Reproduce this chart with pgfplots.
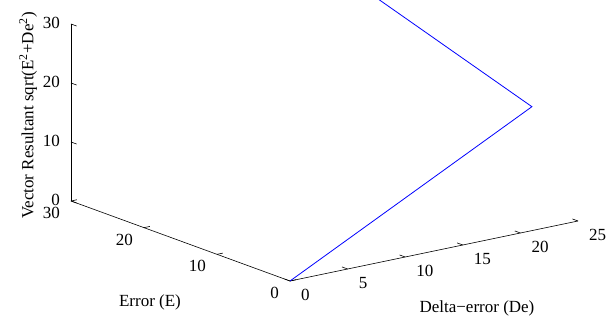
\documentclass[border=0pt]{standalone}
\usepackage{fontspec}
\setmainfont{Liberation Serif}
\usepackage{pgfplots}
\pgfplotsset{compat=1.18}
\usetikzlibrary{calc}
\begin{document}
\begin{tikzpicture}
\begin{axis}[
  x={(11.52pt,2.4pt)}, y={(-7.3pt,2.667pt)}, z={(0pt,5.9pt)},
  xmin=0, xmax=25, ymin=0, ymax=30, zmin=0, zmax=30,
  xtick={0,5,10,15,20,25}, ytick={0,10,20,30}, ztick={0,10,20,30},
  axis line style={draw=none},
  tick style={draw=none},
  tick pos=left,
  clip=false,
  /pgf/number format/assume math mode=true,
  tick label style={font=\fontsize{17}{20}\selectfont, inner sep=0pt},
  xticklabel style={anchor=west, xshift=11pt, yshift=-14pt},
  yticklabel style={anchor=east, xshift=-11pt, yshift=-12pt},
  zticklabel style={anchor=east, xshift=-11pt, yshift=1pt},
  xlabel={Delta−error (De)},
  ylabel={Error (E)},
  zlabel={Vector Resultant sqrt(E\textsuperscript{2}+De\textsuperscript{2})},
  every axis x label/.style={at={(axis cs:6.25,-15.75,0)}, anchor=center, font=\fontsize{17}{20}\selectfont},
  every axis y label/.style={at={(axis cs:-10.92,1.95,0)}, anchor=center, font=\fontsize{17}{20}\selectfont},
  every axis z label/.style={at={(axis cs:0,35.14,12.17)}, anchor=base, rotate=90, inner sep=0pt, font=\fontsize{17}{20}\selectfont},
]
\coordinate (O) at (axis cs:0,0,0);
\draw[black, line width=0.6pt] (axis cs:0,0,0) -- (axis cs:25,0,0);
\draw[black, line width=0.6pt] (axis cs:0,0,0) -- (axis cs:0,30,0);
\draw[black, line width=0.6pt] (axis cs:0,30,0) -- (axis cs:0,30,30);
\pgfplotsinvokeforeach{0,5,10,15,20,25}{
  \draw[black, line width=0.6pt] (axis cs:#1,0,0) -- (axis cs:#1,0.77,0);
}
\pgfplotsinvokeforeach{0,10,20,30}{
  \draw[black, line width=0.6pt] (axis cs:0,#1,0) -- (axis cs:0.51,#1,0);
  \draw[black, line width=0.6pt] (axis cs:0,30,#1) -- (axis cs:0,29.23,#1);
}
\addplot3[blue, line width=0.8pt] coordinates {
  (0,0,0) (21,0,21) (21,21,29.7)
};
\end{axis}
\pgfresetboundingbox
\path[use as bounding box] ($(O)+(-290pt,281pt)$) rectangle ($(O)+(318pt,-43pt)$);
\end{tikzpicture}
\end{document}
